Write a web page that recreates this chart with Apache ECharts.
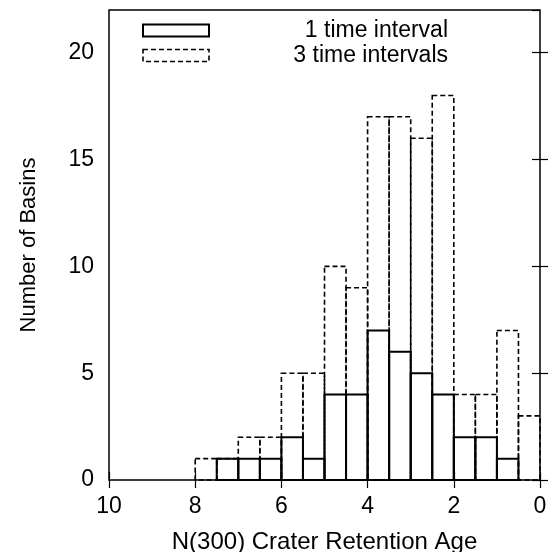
<!DOCTYPE html>
<html>
<head>
<meta charset="utf-8">
<script src="https://cdn.jsdelivr.net/npm/echarts@6/dist/echarts.min.js"></script>
<style>
  html, body { margin: 0; padding: 0; background: #fff; }
  #chart { width: 549px; height: 552px; }
</style>
</head>
<body>
<div id="chart"></div>
<script>
//*************************************************************************************************data
// histogram bins, 0.5 wide, given by their upper age edge (x axis runs 10 -> 0)
var bin_start = [8.0, 7.5, 7.0, 6.5, 6.0, 5.5, 5.0, 4.5, 4.0, 3.5, 3.0, 2.5, 2.0, 1.5, 1.0, 0.5];
var bin_width = 0.5;
var one_interval = [0, 1, 1, 1, 2, 1, 4, 4, 7, 6, 5, 4, 2, 2, 1, 0];
var three_intervals = [1, 1, 2, 2, 5, 5, 10, 9, 17, 17, 16, 18, 4, 4, 7, 3];
var series_names = ['1 time interval', '3 time intervals'];

var font = 'Liberation Sans, Arial, Helvetica, sans-serif';

//*************************************************************************************************chart
function make_data(counts) {
    var out = [];
    for (let i = 0; i < counts.length; i++) {
        out.push([bin_start[i], bin_start[i] - bin_width, counts[i]]);
    }
    return out;
}

function bar_renderer(dashed) {
    return function (params, api) {
        if (api.value(2) <= 0) return null;
        var p0 = api.coord([api.value(0), api.value(2)]);
        var p1 = api.coord([api.value(1), 0]);
        return {
            type: 'rect',
            shape: { x: p0[0], y: p0[1], width: p1[0] - p0[0], height: p1[1] - p0[1] },
            style: {
                fill: 'none',
                stroke: '#000',
                lineWidth: dashed ? 1.6 : 2,
                lineDash: dashed ? [5, 3] : null
            }
        };
    };
}

var chart = echarts.init(document.getElementById('chart'));

var tick_style = { show: true, inside: true, length: 8, lineStyle: { color: '#000', width: 1.2 } };
var label_style = { color: '#000', fontSize: 23, fontFamily: font };

var option = {
    animation: false,
    textStyle: { fontFamily: font },
    grid: {
        left: 109, right: 9, top: 10, bottom: 72,
        outerBoundsMode: 'none',
        show: true, borderColor: '#000', borderWidth: 1.5, backgroundColor: 'transparent'
    },
    legend: {
        orient: 'vertical',
        left: 137,
        top: 14,
        itemWidth: 66,
        itemHeight: 12,
        itemGap: 2,
        selectedMode: false,
        data: [
            { name: series_names[0], icon: 'rect',
              itemStyle: { color: 'transparent', borderColor: '#000', borderWidth: 2 } },
            { name: series_names[1], icon: 'rect',
              itemStyle: { color: 'transparent', borderColor: '#000', borderWidth: 1.6, borderType: [5, 3] } }
        ],
        formatter: function (name) { return '{t|' + name + '}'; },
        textStyle: {
            rich: {
                t: { width: 234, align: 'right', fontSize: 23, lineHeight: 20, color: '#000', fontFamily: font }
            }
        }
    },
    xAxis: [{
        type: 'value',
        min: 0, max: 10, interval: 2,
        inverse: true,
        name: 'N(300) Crater Retention Age',
        nameLocation: 'middle',
        nameGap: 50,
        nameTextStyle: { color: '#000', fontSize: 24, fontFamily: font },
        axisLine: { show: false },
        axisTick: tick_style,
        axisLabel: Object.assign({ margin: 15 }, label_style),
        splitLine: { show: false }
    }, {
        type: 'value',
        position: 'top',
        min: 0, max: 10, interval: 2,
        inverse: true,
        axisLine: { show: false },
        axisTick: tick_style,
        axisLabel: { show: false },
        splitLine: { show: false }
    }],
    yAxis: [{
        type: 'value',
        min: 0, max: 22, interval: 5,
        name: 'Number of Basins',
        nameLocation: 'middle',
        nameGap: 69,
        nameTextStyle: { color: '#000', fontSize: 22, fontFamily: font },
        axisLine: { show: false },
        axisTick: tick_style,
        axisLabel: Object.assign({ margin: 15, showMaxLabel: false }, label_style),
        splitLine: { show: false }
    }, {
        type: 'value',
        position: 'right',
        min: 0, max: 22, interval: 5,
        axisLine: { show: false },
        axisTick: tick_style,
        axisLabel: { show: false },
        splitLine: { show: false }
    }],
    series: [{
        name: series_names[1],
        type: 'custom',
        renderItem: bar_renderer(true),
        encode: { x: [0, 1], y: 2 },
        data: make_data(three_intervals),
        z: 2
    }, {
        name: series_names[0],
        type: 'custom',
        renderItem: bar_renderer(false),
        encode: { x: [0, 1], y: 2 },
        data: make_data(one_interval),
        z: 3
    }]
};

chart.setOption(option);
</script>
</body>
</html>
